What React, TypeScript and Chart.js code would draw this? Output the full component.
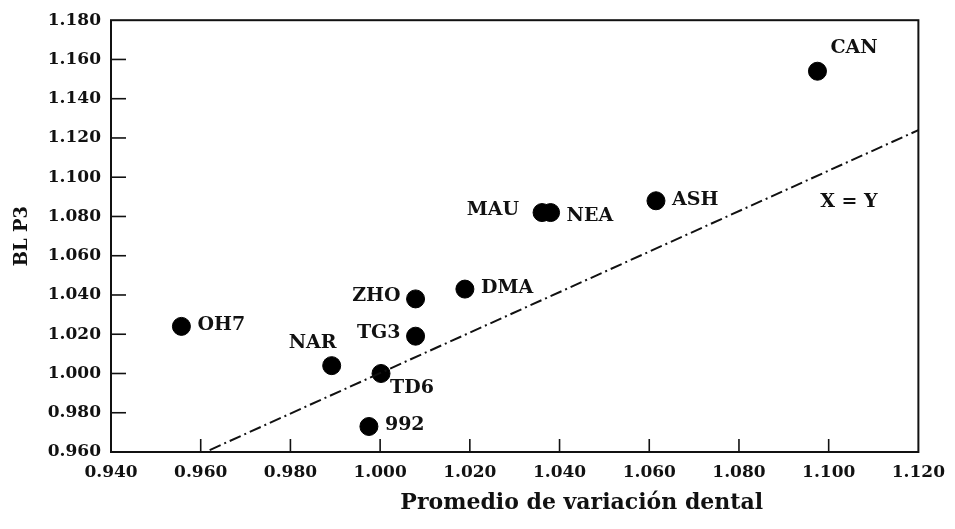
import { useEffect, useRef } from "react";
import { Chart, registerables } from "chart.js";

Chart.register(...registerables);

// ---- data ----
const pointLabels = ["OH7", "NAR", "TD6", "992", "TG3", "ZHO", "DMA", "MAU", "NEA", "ASH", "CAN"];
const xValues = [0.9557, 0.9892, 1.0002, 0.9975, 1.0079, 1.0079, 1.0189, 1.0361, 1.038, 1.0615, 1.0975];
const yValues = [1.024, 1.004, 1.0, 0.973, 1.019, 1.038, 1.043, 1.082, 1.082, 1.088, 1.154];
const labelPlacement = [
  "right", "aboveLeft", "belowRight", "right", "left", "left",
  "right", "leftFar", "rightLow", "right", "aboveRight",
];
const refLineX = [0.962, 1.12];
const refLineY = [0.961, 1.124];
const refLineLabel = "X = Y";
const refLineLabelAt = { x: 1.1045, y: 1.0875 };
const xRange = [0.94, 1.12];
const yRange = [0.96, 1.18];
const tickStep = 0.02;
const xTitle = "Promedio de variación dental";
const yTitle = "BL P3";

const FONT = "'DejaVu Serif', 'Liberation Serif', serif";
const INK = "#111";

const placements: Record<string, { dx: number; dy: number; align: CanvasTextAlign }> = {
  right: { dx: 16, dy: -1, align: "left" },
  rightLow: { dx: 16, dy: 4, align: "left" },
  left: { dx: -15, dy: -3, align: "right" },
  leftFar: { dx: -23, dy: -2, align: "right" },
  aboveLeft: { dx: -19, dy: -23, align: "center" },
  belowRight: { dx: 9, dy: 15, align: "left" },
  aboveRight: { dx: 13, dy: -23, align: "left" },
};

const decorPlugin = {
  id: "decor",
  afterDatasetsDraw(chart: any) {
    const { ctx, chartArea, scales } = chart;
    const xs = scales.x;
    const ys = scales.y;
    ctx.save();
    // frame
    ctx.strokeStyle = INK;
    ctx.lineWidth = 2;
    ctx.strokeRect(chartArea.left, chartArea.top, chartArea.right - chartArea.left, chartArea.bottom - chartArea.top);
    // inward ticks
    ctx.lineWidth = 1.6;
    xs.ticks.forEach((t: any, i: number) => {
      if (i === 0 || i === xs.ticks.length - 1) return;
      const px = xs.getPixelForValue(t.value);
      ctx.beginPath();
      ctx.moveTo(px, chartArea.bottom);
      ctx.lineTo(px, chartArea.bottom - 13);
      ctx.stroke();
    });
    ys.ticks.forEach((t: any, i: number) => {
      if (i === 0 || i === ys.ticks.length - 1) return;
      const py = ys.getPixelForValue(t.value);
      ctx.beginPath();
      ctx.moveTo(chartArea.left, py);
      ctx.lineTo(chartArea.left + 15, py);
      ctx.stroke();
    });
    // point labels
    ctx.fillStyle = INK;
    ctx.font = `bold 19px ${FONT}`;
    ctx.textBaseline = "middle";
    const meta = chart.getDatasetMeta(1);
    meta.data.forEach((el: any, i: number) => {
      const p = placements[labelPlacement[i]] || placements.right;
      ctx.textAlign = p.align;
      ctx.fillText(pointLabels[i], el.x + p.dx, el.y + p.dy);
    });
    // reference line label
    ctx.textAlign = "center";
    ctx.fillText(refLineLabel, xs.getPixelForValue(refLineLabelAt.x), ys.getPixelForValue(refLineLabelAt.y));
    // x axis title
    ctx.font = `bold 22px ${FONT}`;
    ctx.fillText(xTitle, (chartArea.left + chartArea.right) / 2 + 67, chartArea.bottom + 51);
    ctx.restore();
  },
};

export default function App() {
  const ref = useRef<HTMLCanvasElement>(null);
  useEffect(() => {
    if (!ref.current) return;
    const chart = new Chart(ref.current, {
      type: "scatter",
      data: {
        datasets: [
          {
            type: "line",
            data: refLineX.map((x, i) => ({ x, y: refLineY[i] })),
            borderColor: INK,
            borderWidth: 2,
            borderDash: [12, 4, 2, 4],
            pointRadius: 0,
            fill: false,
          } as any,
          {
            data: xValues.map((x, i) => ({ x, y: yValues[i] })),
            backgroundColor: "#000",
            borderColor: "#000",
            pointRadius: 9,
            pointHoverRadius: 9,
          },
        ],
      },
      plugins: [decorPlugin],
      options: {
        responsive: false,
        animation: false,
        layout: { padding: { top: 15, right: 35, left: 0, bottom: 0 } },
        plugins: { legend: { display: false }, tooltip: { enabled: false } },
        scales: {
          x: {
            type: "linear",
            min: xRange[0],
            max: xRange[1],
            afterFit: (s: any) => { s.height = 77; },
            grid: { display: false, drawTicks: false },
            border: { display: false },
            ticks: {
              stepSize: tickStep,
              padding: 10,
              color: INK,
              font: { family: FONT, size: 17, weight: "bold" },
              callback: (v: any) => Number(v).toFixed(3),
              maxRotation: 0,
              autoSkip: false,
            },
          },
          y: {
            type: "linear",
            min: yRange[0],
            max: yRange[1],
            afterFit: (s: any) => { s.width = 111; },
            grid: { display: false, drawTicks: false },
            border: { display: false },
            title: {
              display: true,
              text: yTitle,
              color: INK,
              font: { family: FONT, size: 18, weight: "bold" },
              padding: { top: 12, bottom: 0 },
            },
            ticks: {
              stepSize: tickStep,
              padding: 10,
              color: INK,
              font: { family: FONT, size: 17, weight: "bold" },
              callback: (v: any) => Number(v).toFixed(3),
              autoSkip: false,
            },
          },
        },
      },
    });
    return () => chart.destroy();
  }, []);
  return (
    <div style={{ position: "fixed", left: 0, top: 0, width: 955, height: 529, background: "#fff" }}>
      <canvas ref={ref} width={955} height={529} />
    </div>
  );
}
